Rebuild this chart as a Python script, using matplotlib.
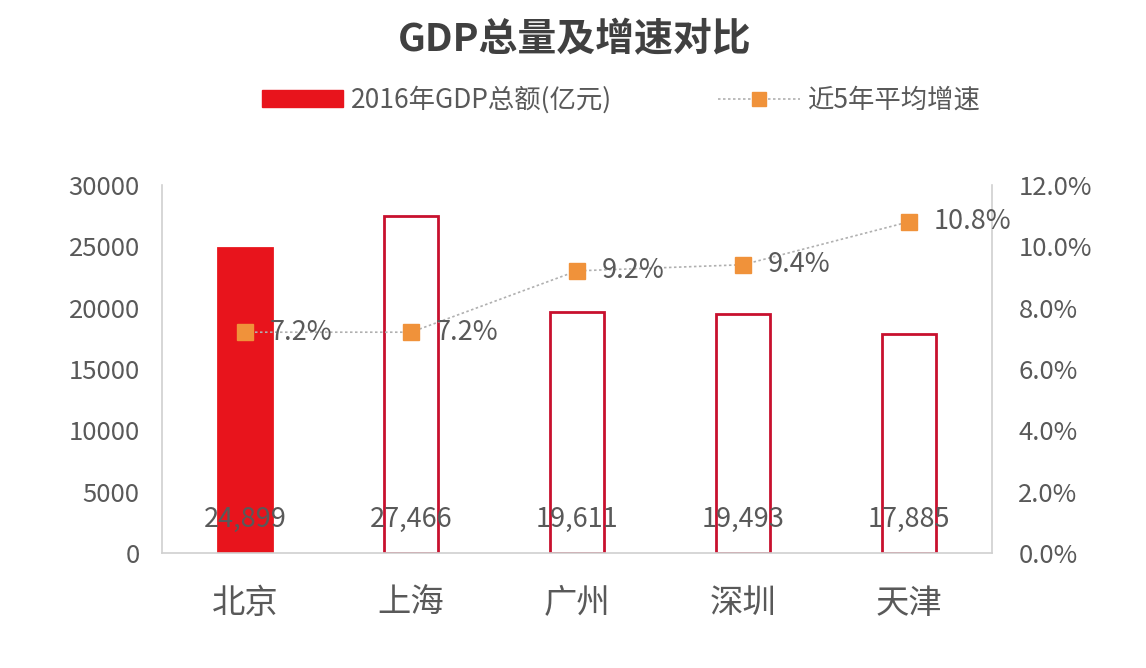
import matplotlib
matplotlib.use("Agg")
import matplotlib.pyplot as plt
from matplotlib.patches import Patch
from matplotlib.lines import Line2D

plt.rcParams['font.family'] = ['Noto Sans CJK SC', 'DejaVu Sans']

cities = ['北京', '上海', '广州', '深圳', '天津']
gdp = [24899, 27466, 19611, 19493, 17885]
growth = [7.2, 7.2, 9.2, 9.4, 10.8]
gdp_labels = ['24,899', '27,466', '19,611', '19,493', '17,885']
growth_labels = ['7.2%', '7.2%', '9.2%', '9.4%', '10.8%']
left_ticks = [0, 5000, 10000, 15000, 20000, 25000, 30000]
right_ticks = [0, 2, 4, 6, 8, 10, 12]

RED = '#E8141C'
EDGE = '#C8102E'
ORANGE = '#F0923A'
GRAY = '#595959'
SPINE = '#D0D0D0'

fig = plt.figure(figsize=(11.46, 6.68), dpi=100)
ax = fig.add_axes([162/1146, 1-553/668, 830/1146, 368/668])
ax2 = ax.twinx()

x = list(range(len(cities)))
faces = [RED] + ['white'] * (len(cities) - 1)
edges = [RED] + [EDGE] * (len(cities) - 1)
ax.bar(x, gdp, width=0.33, color=faces, edgecolor=edges, linewidth=2, zorder=2)
for xi, lab in zip(x, gdp_labels):
    ax.text(xi, 2700, lab, ha='center', va='center', fontsize=19.5, color=GRAY, zorder=3)

ax.set_xlim(-0.5, len(cities) - 0.5)
ax.set_ylim(0, 30000)
ax.set_yticks(left_ticks)
ax.set_yticklabels([str(t) for t in left_ticks], fontsize=18.5, color=GRAY)
ax.set_xticks(x)
ax.set_xticklabels(cities, fontsize=24, color=GRAY)
ax.tick_params(axis='y', length=0, pad=16)
ax.tick_params(axis='x', length=0, pad=24)
for s in ['top', 'right']:
    ax.spines[s].set_visible(False)
for s in ['bottom', 'left']:
    ax.spines[s].set_color(SPINE)
    ax.spines[s].set_linewidth(1.2)

ax2.plot(x, growth, linestyle=(0, (1.5, 1.5)), color='#B0B0B0', linewidth=1.2,
         marker='s', markersize=12, markerfacecolor=ORANGE, markeredgecolor=ORANGE, zorder=4)
for xi, g, lab in zip(x, growth, growth_labels):
    ax2.text(xi + 0.15, g, lab, ha='left', va='center', fontsize=19.5, color=GRAY, zorder=5)
ax2.set_ylim(0, 12)
ax2.set_yticks(right_ticks)
ax2.set_yticklabels([f'{t:.1f}%' for t in right_ticks], fontsize=18.5, color=GRAY)
ax2.tick_params(axis='y', length=0, pad=19)
for s in ['top', 'left', 'bottom']:
    ax2.spines[s].set_visible(False)
ax2.spines['right'].set_color(SPINE)
ax2.spines['right'].set_linewidth(1.2)

fig.text(575/1146, 1-40/668, 'GDP总量及增速对比', ha='center', va='center',
         fontsize=28, fontweight='bold', color='#404040')

handles = [Patch(facecolor=RED, edgecolor=RED),
           Line2D([0], [0], linestyle=(0, (1.5, 1.5)), color='#B0B0B0', linewidth=1.2,
                  marker='s', markersize=10, markerfacecolor=ORANGE, markeredgecolor=ORANGE)]
leg = fig.legend(handles, ['2016年GDP总额(亿元)', '近5年平均增速'], loc='center',
                 bbox_to_anchor=(621/1146, 1-100/668), ncol=2, frameon=False,
                 fontsize=19, handlelength=3.1, handleheight=0.6, columnspacing=4.0,
                 handletextpad=0.3)
for t in leg.get_texts():
    t.set_color(GRAY)

fig.savefig('out.png', dpi=100)
